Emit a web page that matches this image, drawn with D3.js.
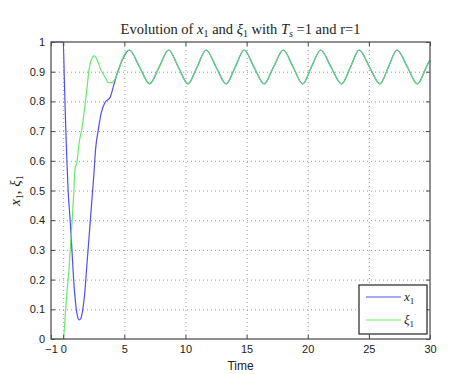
<!DOCTYPE html>
<html>
<head>
<meta charset="utf-8">
<script src="https://cdnjs.cloudflare.com/ajax/libs/d3/7.8.5/d3.min.js"></script>
<style>
  body { margin: 0; background: #fff; }
  svg { display: block; }
  .tick text { font-family: "Liberation Sans", Arial, sans-serif; font-size: 11px; fill: #222; }
</style>
</head>
<body>
<div id="chart"></div>
<script>
// x-axis ticks and y-axis ticks
const xTicks = [-1, 0, 5, 10, 15, 20, 25, 30];
const yTicks = [0, 0.1, 0.2, 0.3, 0.4, 0.5, 0.6, 0.7, 0.8, 0.9, 1];

// transient part of x1 (time, value)
const x1Time = [-1, 0, 0.1, 0.2, 0.3, 0.4, 0.55, 0.7, 0.85, 1.0, 1.15, 1.3, 1.45, 1.6, 1.75, 1.9,
  2.05, 2.2, 2.35, 2.5, 2.65, 2.85, 3.1, 3.4, 3.85, 4.1, 4.5, 4.9];
const x1Vals = [1, 1, 0.86, 0.72, 0.6, 0.5, 0.41, 0.31, 0.2, 0.125, 0.08, 0.064, 0.07, 0.1, 0.15, 0.23,
  0.31, 0.39, 0.47, 0.55, 0.64, 0.7, 0.76, 0.795, 0.815, 0.85, 0.905, 0.945];

// transient part of xi1
const xiTime = [-1, 0, 0.2, 0.32, 0.45, 0.59, 0.73, 0.86, 0.94, 1.0, 1.1, 1.3, 1.55, 1.76, 1.96, 2.09,
  2.3, 2.55, 2.77, 3.04, 3.4, 3.72, 4.0, 4.27, 4.54, 4.81, 5.14];
const xiVals = [0, 0, 0.1, 0.165, 0.222, 0.31, 0.4, 0.49, 0.56, 0.58, 0.59, 0.66, 0.715, 0.78, 0.85, 0.9,
  0.94, 0.953, 0.94, 0.91, 0.883, 0.863, 0.863, 0.878, 0.906, 0.94, 0.967];

// steady oscillation, both signals overlap
const oscTime = [5.41, 6.24, 7.07, 7.85, 8.62, 9.41, 10.2, 10.95, 11.69, 12.5, 13.33, 14.07, 14.8,
  15.6, 16.43, 17.2, 18.0, 18.8, 19.59, 20.3, 21.06, 21.9, 22.77, 23.5, 24.2, 25.05, 25.9, 26.6,
  27.3, 28.15, 28.97, 29.7, 30];
const oscVals = [0.973, 0.916, 0.859, 0.916, 0.973, 0.916, 0.859, 0.916, 0.973, 0.916, 0.859, 0.916, 0.973,
  0.916, 0.859, 0.916, 0.973, 0.916, 0.859, 0.916, 0.973, 0.916, 0.859, 0.916, 0.973, 0.916, 0.859, 0.916,
  0.973, 0.916, 0.859, 0.916, 0.94];

const W = 460, H = 374;
const margin = { top: 42, right: 30, bottom: 35, left: 51 };

const svg = d3.select('#chart').append('svg')
  .attr('width', W)
  .attr('height', H);

const x = d3.scaleLinear().domain([-1, 30]).range([margin.left, W - margin.right]);
const y = d3.scaleLinear().domain([0, 1]).range([H - margin.bottom, margin.top]);

const pts = (ts, vs) => ts.map((t, i) => [t, vs[i]]);
const oscPts = pts(oscTime, oscVals);
const x1Data = pts(x1Time, x1Vals).concat(oscPts);
const xiData = pts(xiTime, xiVals).concat(oscPts);

// grid
const grid = svg.append('g')
  .attr('stroke', '#9a9a9a')
  .attr('stroke-width', 1)
  .attr('stroke-dasharray', '1,3');
grid.selectAll('.vg').data(xTicks.filter(d => d > -1 && d < 30)).join('line')
  .attr('x1', d => x(d) + 0.5).attr('x2', d => x(d) + 0.5)
  .attr('y1', y(0)).attr('y2', y(1));
grid.selectAll('.hg').data(yTicks.filter(d => d > 0 && d < 1)).join('line')
  .attr('x1', x(-1)).attr('x2', x(30))
  .attr('y1', d => y(d) + 0.5).attr('y2', d => y(d) + 0.5);

// lines
const line = d3.line()
  .x(d => x(d[0]))
  .y(d => y(d[1]))
  .curve(d3.curveMonotoneX);

svg.append('path')
  .datum(x1Data)
  .attr('fill', 'none')
  .attr('stroke', '#5050f0')
  .attr('stroke-width', 1.2)
  .attr('d', line);

svg.append('path')
  .datum(xiData)
  .attr('fill', 'none')
  .attr('stroke', '#5ee65e')
  .attr('stroke-opacity', 0.93)
  .attr('stroke-width', 1.2)
  .attr('d', line);

// axes (ticks inside, like matlab)
const tickLen = 4;
svg.append('g')
  .attr('transform', `translate(0,${y(0)})`)
  .call(d3.axisBottom(x).tickValues(xTicks).tickSize(-tickLen).tickPadding(6).tickFormat(d3.format('d')))
  .call(g => g.select('.domain').remove())
  .call(g => g.selectAll('.tick line').attr('stroke', '#444'));

svg.append('g')
  .attr('transform', `translate(${x(-1)},0)`)
  .call(d3.axisLeft(y).tickValues(yTicks).tickSize(-tickLen).tickPadding(6)
    .tickFormat(d => d === 0 || d === 1 ? d3.format('d')(d) : d3.format('.1f')(d)))
  .call(g => g.select('.domain').remove())
  .call(g => g.selectAll('.tick line').attr('stroke', '#444'));

// top and right ticks
svg.append('g')
  .attr('transform', `translate(0,${y(1)})`)
  .call(d3.axisTop(x).tickValues(xTicks).tickSize(-tickLen).tickFormat(''))
  .call(g => g.select('.domain').remove())
  .call(g => g.selectAll('.tick line').attr('stroke', '#444'));
svg.append('g')
  .attr('transform', `translate(${x(30)},0)`)
  .call(d3.axisRight(y).tickValues(yTicks).tickSize(-tickLen).tickFormat(''))
  .call(g => g.select('.domain').remove())
  .call(g => g.selectAll('.tick line').attr('stroke', '#444'));

// box
svg.append('rect')
  .attr('x', x(-1)).attr('y', y(1))
  .attr('width', x(30) - x(-1)).attr('height', y(0) - y(1))
  .attr('fill', 'none')
  .attr('stroke', '#555')
  .attr('stroke-width', 1.3);

// title
const title = svg.append('text')
  .attr('x', (x(-1) + x(30)) / 2)
  .attr('y', 34)
  .attr('text-anchor', 'middle')
  .attr('font-family', '"Liberation Serif", "DejaVu Serif", serif')
  .attr('font-size', 14.5)
  .attr('fill', '#222');
title.append('tspan').text('Evolution of ');
title.append('tspan').attr('font-style', 'italic').text('x');
title.append('tspan').attr('font-size', 10).attr('dy', 3).text('1');
title.append('tspan').attr('dy', -3).text(' and ');
title.append('tspan').attr('font-style', 'italic').text('ξ');
title.append('tspan').attr('font-size', 10).attr('dy', 3).text('1');
title.append('tspan').attr('dy', -3).text(' with ');
title.append('tspan').attr('font-style', 'italic').text('T');
title.append('tspan').attr('font-size', 10).attr('font-style', 'italic').attr('dy', 3).text('s');
title.append('tspan').attr('dy', -3).text(' =1 and r=1');

// x label
svg.append('text')
  .attr('x', (x(-1) + x(30)) / 2)
  .attr('y', 370)
  .attr('text-anchor', 'middle')
  .attr('font-family', '"Liberation Sans", Arial, sans-serif')
  .attr('font-size', 12)
  .attr('fill', '#222')
  .text('Time');

// y label
const ylab = svg.append('text')
  .attr('transform', `translate(20,${(y(0) + y(1)) / 2}) rotate(-90)`)
  .attr('text-anchor', 'middle')
  .attr('font-family', '"Liberation Serif", "DejaVu Serif", serif')
  .attr('font-size', 15)
  .attr('fill', '#222');
ylab.append('tspan').attr('font-style', 'italic').text('x');
ylab.append('tspan').attr('font-size', 10).attr('dy', 3).text('1');
ylab.append('tspan').attr('dy', -3).text(', ');
ylab.append('tspan').attr('font-style', 'italic').text('ξ');
ylab.append('tspan').attr('font-size', 10).attr('dy', 3).text('1');

// legend
const legend = svg.append('g').attr('transform', 'translate(359,285)');
legend.append('rect')
  .attr('width', 68).attr('height', 49)
  .attr('fill', '#fff')
  .attr('stroke', '#333')
  .attr('stroke-width', 1.3);
const items = [
  { name: 'x', color: '#5050f0' },
  { name: 'ξ', color: '#6ef06e' }
];
items.forEach((it, i) => {
  const yy = 12 + i * 23;
  legend.append('line')
    .attr('x1', 7).attr('x2', 42)
    .attr('y1', yy).attr('y2', yy)
    .attr('stroke', it.color)
    .attr('stroke-width', 1.2);
  const t = legend.append('text')
    .attr('x', 45).attr('y', yy + 4)
    .attr('font-family', '"Liberation Serif", "DejaVu Serif", serif')
    .attr('font-size', 13)
    .attr('fill', '#222');
  t.append('tspan').attr('font-style', 'italic').text(it.name);
  t.append('tspan').attr('font-size', 9).attr('dy', 3).text('1');
});
</script>
</body>
</html>
